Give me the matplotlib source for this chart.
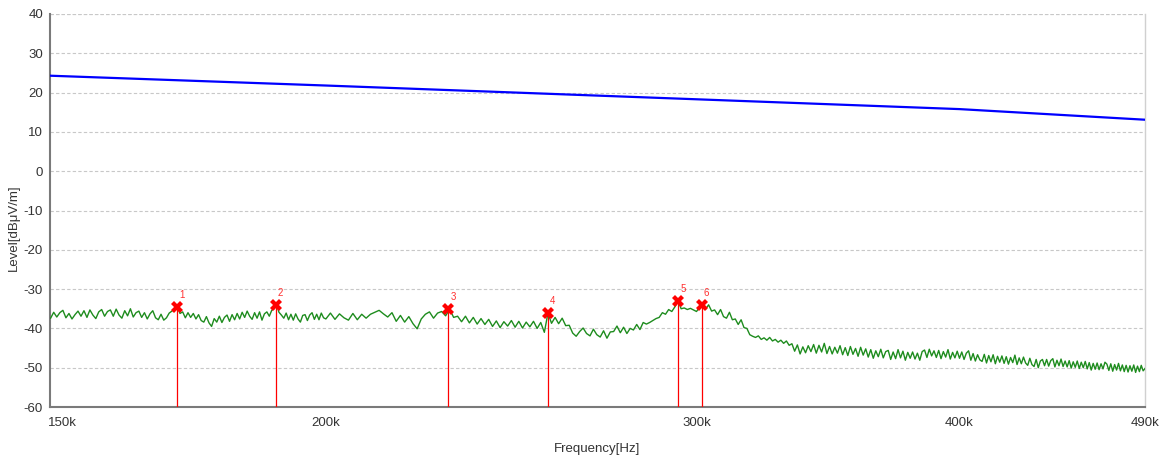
import matplotlib
matplotlib.use("Agg")
import matplotlib.pyplot as plt
import numpy as np

plt.rcParams['font.family'] = ['Liberation Sans', 'DejaVu Sans']
plt.rcParams['axes.unicode_minus'] = False

# ---- data ----
x_min_khz = 147.9
x_max_khz = 490.0
xtick_khz = [150, 200, 300, 400, 490]
xtick_labels = ['150k', '200k', '300k', '400k', '490k']
ytick_vals = [-60, -50, -40, -30, -20, -10, 0, 10, 20, 30, 40]

limit_khz = [147.9, 200, 300, 400, 490]
limit_db = [24.3, 21.8, 18.3, 15.8, 13.1]

trace_khz = [
    148, 148.5, 149, 149.5, 150, 150.5, 151, 151.5, 152, 152.5,
    153, 153.5, 154, 154.5, 155, 155.5, 156, 156.5, 157, 157.5,
    158, 158.5, 159, 159.5, 160, 160.5, 161, 161.5, 162, 162.5,
    163, 163.5, 164, 164.5, 165, 165.5, 166, 166.5, 167, 167.5,
    168, 168.5, 169, 169.5, 170, 170.5, 171, 171.5, 172, 172.5,
    173, 173.5, 174, 174.5, 175, 175.5, 176, 176.5, 177, 177.5,
    178, 178.5, 179, 179.5, 180, 180.5, 181, 181.5, 182, 182.5,
    183, 183.5, 184, 184.5, 185, 185.5, 186, 186.5, 187, 187.5,
    188, 188.5, 189, 189.5, 190, 190.5, 191, 191.5, 192, 192.5,
    193, 193.5, 194, 194.5, 195, 195.5, 196, 196.5, 197, 197.5,
    198, 198.5, 199, 199.5,
    200, 201, 202, 203, 204, 205, 206, 207, 208, 209,
    210, 211, 212, 213, 214, 215, 216, 217, 218, 219,
    220, 221, 222, 223, 224, 225, 226, 227, 228, 229,
    230, 231, 232, 233, 234, 235, 236, 237, 238, 239,
    240, 241, 242, 243, 244, 245, 246, 247, 248, 249,
    250, 251, 252, 253, 254, 255, 256, 257, 258, 259,
    260, 261, 262, 263, 264, 265, 266, 267, 268, 269,
    270, 271, 272, 273, 274, 275, 276, 277, 278, 279,
    280, 281, 282, 283, 284, 285, 286, 287, 288, 289,
    290, 291, 292, 293, 294, 295, 296, 297, 298, 299,
    300, 301, 302, 303, 304, 305, 306, 307, 308, 309,
    310, 311, 312, 313, 314, 315, 316, 317, 318, 319,
    320, 321, 322, 323, 324, 325, 326, 327, 328, 329,
    330, 331, 332, 333, 334, 335, 336, 337, 338, 339,
    340, 341, 342, 343, 344, 345, 346, 347, 348, 349,
    350, 351, 352, 353, 354, 355, 356, 357, 358, 359,
    360, 361, 362, 363, 364, 365, 366, 367, 368, 369,
    370, 371, 372, 373, 374, 375, 376, 377, 378, 379,
    380, 381, 382, 383, 384, 385, 386, 387, 388, 389,
    390, 391, 392, 393, 394, 395, 396, 397, 398, 399,
    400, 401, 402, 403, 404, 405, 406, 407, 408, 409,
    410, 411, 412, 413, 414, 415, 416, 417, 418, 419,
    420, 421, 422, 423, 424, 425, 426, 427, 428, 429,
    430, 431, 432, 433, 434, 435, 436, 437, 438, 439,
    440, 441, 442, 443, 444, 445, 446, 447, 448, 449,
    450, 451, 452, 453, 454, 455, 456, 457, 458, 459,
    460, 461, 462, 463, 464, 465, 466, 467, 468, 469,
    470, 471, 472, 473, 474, 475, 476, 477, 478, 479,
    480, 481, 482, 483, 484, 485, 486, 487, 488, 489,
    490,
]

trace_db = [
    -37.4, -35.9, -37.1, -36.0, -35.4, -37.3, -36.2, -37.6, -36.5, -35.6,
    -36.9, -35.5, -37.2, -35.3, -36.6, -37.5, -35.8, -35.2, -36.9, -35.7,
    -35.3, -36.9, -35.1, -36.6, -37.4, -35.5, -36.8, -35.0, -37.1, -36.0,
    -35.6, -37.2, -36.0, -37.6, -36.3, -35.5, -37.3, -37.8, -36.4, -37.9,
    -37.3, -36.1, -35.6, -35.0, -34.6, -36.2, -35.8, -37.3, -36.0, -37.2,
    -36.2, -37.6, -36.5, -38.0, -38.4, -37.0, -38.6, -39.5, -37.5, -38.4,
    -36.9, -38.5, -37.2, -36.6, -38.2, -36.5, -37.8, -36.2, -37.6, -35.9,
    -37.2, -35.6, -36.9, -37.7, -36.0, -37.4, -35.8, -37.9, -36.3, -35.8,
    -36.9, -35.4, -35.0, -34.0, -35.9, -36.6, -37.4, -36.1, -37.8, -36.4,
    -37.9, -36.3, -37.6, -38.4, -36.7, -36.5, -38.0, -36.6, -36.0, -37.7,
    -36.4, -37.8, -36.1, -37.3,
    -37.6, -36.1, -37.7, -36.3, -37.3, -37.9, -36.2, -37.8, -36.4, -37.4,
    -36.4, -35.9, -35.4, -36.3, -37.1, -36.0, -38.2, -36.7, -38.4, -37.0,
    -38.8, -40.1, -37.6, -36.4, -35.8, -37.4, -36.1, -35.7, -36.8, -35.1,
    -37.2, -36.9, -38.3, -36.9, -38.6, -37.2, -38.9, -37.5, -39.0, -37.7,
    -39.5, -38.1, -39.8, -38.3, -39.4, -38.0, -39.7, -38.2, -39.9, -38.4,
    -39.6, -38.2, -40.0, -38.5, -41.0, -36.1, -38.7, -37.2, -38.8, -37.4,
    -39.3, -39.2, -41.2, -42.0, -40.8, -39.9, -41.3, -41.9, -40.2, -41.6,
    -42.2, -40.6, -42.5, -40.9, -40.8, -39.4, -41.1, -39.7, -41.3, -40.0,
    -40.4, -39.0, -40.3, -38.5, -38.9, -38.5, -38.0, -37.5, -37.2, -36.0,
    -36.4, -35.2, -35.7, -34.5, -33.1, -35.0, -34.8, -35.2, -34.9, -35.3,
    -35.7, -34.6, -34.0, -35.1, -34.0, -35.6, -35.3, -36.5, -35.2, -37.0,
    -37.4, -35.9, -37.8, -37.6, -39.0, -37.8, -39.8, -40.0, -41.6, -42.0,
    -42.3, -41.9, -42.8, -42.4, -43.0, -42.3, -43.2, -42.8, -43.5, -43.0,
    -43.8, -43.2, -44.3, -43.9, -45.8, -44.2, -46.5, -44.7, -46.2, -44.4,
    -45.9, -44.1, -46.3, -44.3, -46.0, -43.8, -46.4, -44.6, -46.5, -44.8,
    -46.3, -44.4, -46.7, -44.9, -46.9, -44.6, -46.6, -45.1, -47.1, -44.8,
    -46.8, -45.2, -47.3, -45.4, -47.6, -45.7, -47.2, -45.3, -47.5, -45.9,
    -45.6, -47.9, -46.0, -47.7, -45.4, -47.5, -45.8, -48.1, -46.1, -47.6,
    -46.0, -47.8, -46.3, -48.1, -45.9, -45.5, -47.4, -45.3, -47.0, -45.7,
    -47.4, -45.6, -47.7, -45.9, -47.3, -45.4, -47.8, -46.1, -47.5, -45.8,
    -47.6, -46.0, -47.9, -46.3, -45.7, -48.1, -46.4, -48.3, -46.7, -48.0,
    -48.4, -46.6, -48.8, -46.9, -48.5, -46.7, -49.0, -47.1, -48.6, -47.0,
    -48.9, -47.2, -49.1, -47.4, -48.7, -46.8, -49.2, -47.5, -49.0, -47.3,
    -48.8, -49.4, -47.6, -49.2, -49.7, -47.9, -50.0, -48.3, -47.9, -49.5,
    -47.9, -49.6, -48.2, -47.7, -49.8, -48.1, -49.5, -47.8, -49.7, -48.3,
    -49.8, -48.2, -50.1, -48.5, -49.9, -48.3, -50.2, -48.6, -50.0, -48.4,
    -50.3, -48.7, -50.6, -48.9, -50.4, -48.8, -50.5, -49.0, -50.3, -48.6,
    -49.1, -50.7, -49.0, -50.9, -49.2, -50.6, -48.9, -50.8, -49.3, -51.0,
    -49.4, -51.1, -49.5, -50.9, -49.3, -51.2, -49.6, -51.0, -49.4, -50.8,
    -50.2,
]

marker_ids = ['1', '2', '3', '4', '5', '6']
marker_khz = [169.9, 189.3, 228.7, 255.0, 294.0, 301.7]
marker_db = [-34.6, -34.0, -35.1, -36.1, -33.1, -34.0]

# ---- figure ----
fig = plt.figure(figsize=(11.66, 4.62), dpi=100)
ax = fig.add_axes([50 / 1166, 55 / 462, 1095 / 1166, 393 / 462])

hz = 1000.0
ax.set_xscale('log')
ax.set_xlim(x_min_khz * hz, x_max_khz * hz)
ax.set_ylim(-60, 40)

ax.plot(np.array(limit_khz) * hz, limit_db, color='#0000ff', lw=1.6, zorder=3)
ax.plot(np.array(trace_khz) * hz, trace_db, color='#1e8c1e', lw=1.0, zorder=3)

mk_f = np.array(marker_khz) * hz
ax.vlines(mk_f, -60, marker_db, color='#ff0000', lw=0.9, zorder=4)
ax.plot(mk_f, marker_db, linestyle='none', marker='X', markersize=8,
        color='#ff0000', markeredgewidth=0, zorder=5)
for lab, f, d in zip(marker_ids, mk_f, marker_db):
    ax.annotate(lab, (f, d), xytext=(3.5, 8.5), textcoords='offset points',
                ha='center', va='center', color='#ff3030', fontsize=7)

# ticks
ax.xaxis.set_major_locator(matplotlib.ticker.FixedLocator([v * hz for v in xtick_khz]))
ax.xaxis.set_major_formatter(matplotlib.ticker.FixedFormatter(xtick_labels))
ax.xaxis.set_minor_locator(matplotlib.ticker.FixedLocator([v * hz for v in xtick_khz[1:-1]]))
ax.xaxis.set_minor_formatter(matplotlib.ticker.NullFormatter())
ax.tick_params(axis='x', which='major', length=0, pad=7, labelsize=9.5, labelcolor='#333333')
ax.tick_params(axis='x', which='minor', direction='in', length=4, width=1, color='#333333')
ax.set_yticks(ytick_vals)
ax.tick_params(axis='y', length=0, pad=5, labelsize=9.5, labelcolor='#333333')

ax.grid(True, which='minor', axis='x', color='#c8c8c8', ls=(0, (3, 2)), lw=0.8)
ax.grid(False, which='major', axis='x')
ax.grid(True, which='major', axis='y', color='#c8c8c8', ls=(0, (3, 2)), lw=0.8)
ax.set_axisbelow(True)

for s in ['left', 'bottom']:
    ax.spines[s].set_color('#7a7a7a')
    ax.spines[s].set_linewidth(1.5)
ax.spines['right'].set_color('#d0d0d0')
ax.spines['right'].set_linewidth(1.0)
ax.spines['top'].set_visible(False)
ax.axhline(40, color='#c8c8c8', ls=(0, (3, 2)), lw=0.8, zorder=1)

ax.set_xlabel('Frequency[Hz]', fontsize=9.5, color='#333333', labelpad=10)
ax.set_ylabel('Level[dBμV/m]', fontsize=9.5, color='#333333')
ax.yaxis.set_label_coords(-30 / 1095, 0.455)

fig.savefig('out.png', dpi=100)
